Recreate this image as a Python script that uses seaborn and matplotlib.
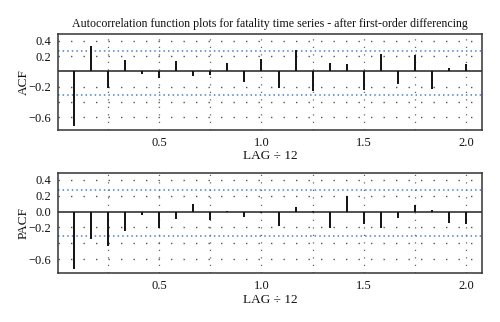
import numpy as np
import matplotlib
matplotlib.use("Agg")
import matplotlib.pyplot as plt
import seaborn as sns

lags = np.arange(1, 25)
acf_vals = [-0.713, 0.335, -0.222, 0.148, -0.035, -0.09, 0.135, -0.06, -0.045, 0.105,
            -0.135, 0.157, -0.213, 0.278, -0.257, 0.113, 0.091, -0.243, 0.222, -0.161,
            0.213, -0.226, 0.039, 0.10]
pacf_vals = [-0.715, -0.343, -0.43, -0.238, -0.038, -0.205, -0.096, 0.094, -0.108, 0.012,
             -0.072, -0.02, -0.182, 0.054, 0.005, -0.205, 0.20, -0.155, -0.205, -0.075,
             0.084, 0.025, -0.146, -0.155]
ci_upper = 0.267
ci_lower = -0.303
acf_ticks = [0.4, 0.2, -0.2, -0.6]
acf_ticklabels = ["0.4", "0.2", "\u22120.2", "\u22120.6"]
pacf_ticks = [0.4, 0.2, 0.0, -0.2, -0.6]
pacf_ticklabels = ["0.4", "0.2", "0.0", "\u22120.2", "\u22120.6"]
x_ticks = [0.5, 1.0, 1.5, 2.0]
x_ticklabels = ["0.5", "1.0", "1.5", "2.0"]
title = "Autocorrelation function plots for fatality time series - after first-order differencing"
xlabel = "LAG \u00f7 12"

sns.set_style("white")
plt.rcParams["font.family"] = ["Liberation Serif", "DejaVu Serif"]

fig = plt.figure(figsize=(5.0, 3.22), dpi=100)
ax1 = fig.add_axes([0.116, 0.596, 0.848, 0.298])
ax2 = fig.add_axes([0.116, 0.151, 0.848, 0.3127])

def draw(ax, vals, ticks, ticklabels, ylab, ylim):
    x = lags / 12.0
    ax.set_xlim(0.0067, 2.0767)
    ax.set_ylim(*ylim)
    # grid
    for g in np.arange(0.25, 2.01, 0.25):
        ax.axvline(g, color="#666666", lw=0.9, ls=(0, (1, 5)), zorder=1)
    for g in [0.4, 0.2, -0.2, -0.4, -0.6]:
        ax.axhline(g, color="#555555", lw=1.0, ls=(0, (1, 8)), zorder=1)
    ax.axhline(0.0, color="#222222", lw=1.1, zorder=2)
    ax.axhline(ci_upper, color="#4a7fd4", lw=1.1, ls=(0, (1, 2)), zorder=2)
    ax.axhline(ci_lower, color="#4a7fd4", lw=1.1, ls=(0, (1, 2)), zorder=2)
    ax.vlines(x, 0, vals, color="#111111", lw=1.4, zorder=3)
    ax.set_xticks(x_ticks)
    ax.set_xticklabels(x_ticklabels)
    ax.set_yticks(ticks)
    ax.set_yticklabels(ticklabels)
    ax.tick_params(axis="both", direction="out", length=3, width=0.8, color="#333333",
                   labelsize=9, pad=2, labelcolor="#111111")
    ax.tick_params(axis="x", pad=2)
    ax.set_ylabel(ylab, fontsize=9.5, labelpad=-1, color="#111111")
    ax.set_xlabel(xlabel, fontsize=9.5, labelpad=1, color="#111111")
    for s in ax.spines.values():
        s.set_visible(True)
        s.set_color("#333333")
        s.set_linewidth(1.1)

draw(ax1, acf_vals, acf_ticks, acf_ticklabels, "ACF", (-0.767, 0.487))
draw(ax2, pacf_vals, pacf_ticks, pacf_ticklabels, "PACF", (-0.776, 0.488))
ax1.set_title(title, fontsize=8.6, pad=5, color="#111111")

fig.savefig("out.png", dpi=100)
